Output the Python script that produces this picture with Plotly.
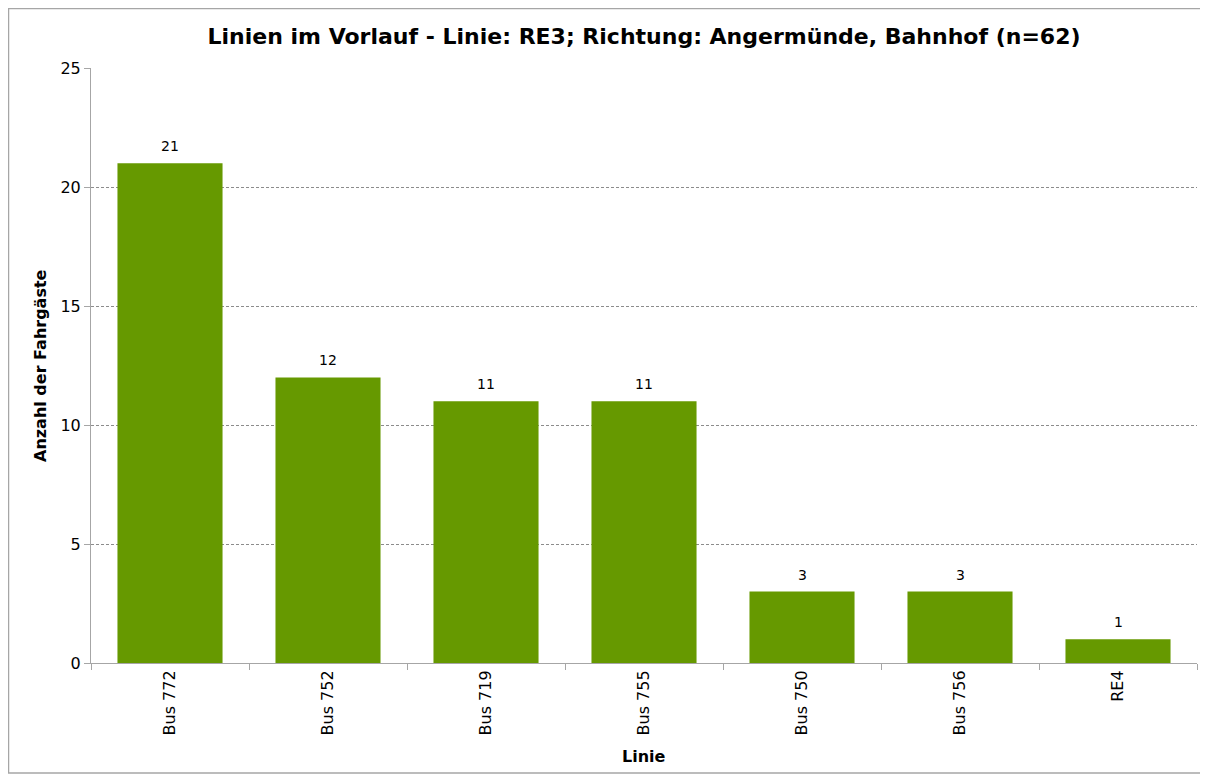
import plotly.graph_objects as go

categories = ["Bus 772", "Bus 752", "Bus 719", "Bus 755", "Bus 750", "Bus 756", "RE4"]
values = [21, 12, 11, 11, 3, 3, 1]
y_ticks = [0, 5, 10, 15, 20, 25]

FONT = "Tahoma, Verdana, DejaVu Sans, sans-serif"
# page body has an 8px margin; compensate so plot sits where the reference has it
W, H = 1200, 772
L, R, T, B = 83, 11, 60, 117
pw, ph = W - L - R, H - T - B

def px_x(p):
    return (p - L) / pw

def px_y(p):
    return (H - B - p) / ph

fig = go.Figure(go.Bar(
    x=categories, y=values,
    marker=dict(color="#669900", line=dict(width=0)),
    width=0.665,
))

for c, v in zip(categories, values):
    fig.add_annotation(x=c, y=v, text=str(v), showarrow=False,
                       xanchor="center", yanchor="bottom", yshift=7,
                       font=dict(size=14, family=FONT, color="#000000"))

fig.update_layout(
    width=W, height=H,
    margin=dict(l=L, r=R, t=T, b=B),
    paper_bgcolor="white", plot_bgcolor="white",
    font=dict(family=FONT, color="#000000"),
    title=dict(text="<b>Linien im Vorlauf - Linie: RE3; Richtung: Angermünde, Bahnhof (n=62)</b>",
               x=0.5, xref="paper", xanchor="center", y=1 - 28 / H, yanchor="middle",
               font=dict(size=22, family=FONT, color="#000000")),
    showlegend=False,
    xaxis=dict(
        tickangle=-90, tickfont=dict(size=16, family=FONT, color="#000000"),
        showline=True, linecolor="#a6a6a6", linewidth=1,
        ticks="outside", ticklen=6, tickcolor="#a6a6a6", tickson="boundaries",
        showgrid=False,
    ),
    yaxis=dict(
        range=[0, 25], tickvals=y_ticks, tickfont=dict(size=16, family=FONT, color="#000000"),
        showline=True, linecolor="#a6a6a6", linewidth=1,
        ticks="outside", ticklen=6, tickcolor="#a6a6a6",
        showgrid=True, gridcolor="#8c8c8c", griddash="3px,2px", gridwidth=1,
        zeroline=False,
    ),
    bargap=0.335,
)

fig.add_annotation(text="<b>Linie</b>", xref="paper", yref="paper",
                   x=0.5, y=px_y(749), xanchor="center", yanchor="middle",
                   showarrow=False, font=dict(size=16, family=FONT, color="#000000"))
fig.add_annotation(text="<b>Anzahl der Fahrgäste</b>", xref="paper", yref="paper",
                   x=px_x(32), y=px_y(358), xanchor="center", yanchor="middle", textangle=-90,
                   showarrow=False, font=dict(size=16, family=FONT, color="#000000"))

fig.add_shape(type="rect", xref="paper", yref="paper",
              x0=px_x(0.5), x1=px_x(1193), y0=px_y(765), y1=px_y(0.5),
              line=dict(color="#a6a6a6", width=1.5), fillcolor="rgba(0,0,0,0)", layer="below")

fig.write_html("out.html")
